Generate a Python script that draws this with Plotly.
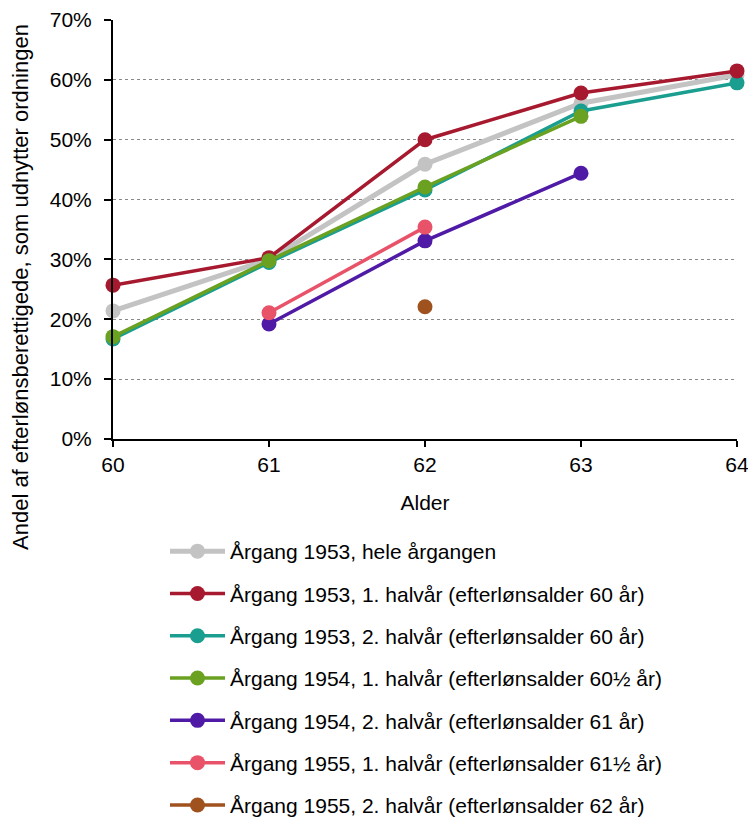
import plotly.graph_objects as go

ages = [60, 61, 62, 63, 64]
names = [
    "Årgang 1953, hele årgangen",
    "Årgang 1953, 1. halvår (efterlønsalder 60 år)",
    "Årgang 1953, 2. halvår (efterlønsalder 60 år)",
    "Årgang 1954, 1. halvår (efterlønsalder 60½ år)",
    "Årgang 1954, 2. halvår (efterlønsalder 61 år)",
    "Årgang 1955, 1. halvår (efterlønsalder 61½ år)",
    "Årgang 1955, 2. halvår (efterlønsalder 62 år)",
]
s1953_all = [21.4, 30.0, 45.9, 56.1, 60.8]
s1953_h1 = [25.7, 30.3, 50.0, 57.8, 61.5]
s1953_h2 = [16.7, 29.5, 41.6, 54.8, 59.5]
s1954_h1 = [17.1, 29.8, 42.1, 53.9, None]
s1954_h2 = [None, 19.2, 33.1, 44.4, None]
s1955_h1 = [None, 21.1, 35.4, None, None]
s1955_h2 = [None, None, 22.1, None, None]
series = [s1953_all, s1953_h1, s1953_h2, s1954_h1, s1954_h2, s1955_h1, s1955_h2]
colors = ["#C3C3C3", "#A6192E", "#1A9E8F", "#6AA121", "#4F1AA6", "#E8536A", "#A0521E"]
widths = [5, 3.5, 3.5, 3.5, 3.5, 3.5, 3.5]
ytitle = "Andel af efterlønsberettigede, som udnytter ordningen"

FONT = "Liberation Sans, Arial, sans-serif"
FS = 21

fig = go.Figure()
order = [0, 2, 1, 3, 4, 5, 6]
for i in order:
    ys = [v / 100 if v is not None else None for v in series[i]]
    fig.add_trace(go.Scatter(
        x=ages, y=ys, name=names[i], mode="lines+markers",
        line=dict(color=colors[i], width=widths[i]),
        marker=dict(color=colors[i], size=15),
        legendgroup=str(i), legendrank=i + 1,
        connectgaps=False, cliponaxis=False,
    ))

fig.add_annotation(
    text=ytitle, textangle=-90, xref="paper", yref="paper",
    x=(20 - 113) / 624, y=(439 - 287) / 419, xanchor="center", yanchor="middle",
    showarrow=False, font=dict(family=FONT, size=22, color="#000"),
)

fig.update_layout(
    width=748, height=817,
    margin=dict(l=113, r=11, t=20, b=378, autoexpand=False),
    paper_bgcolor="white", plot_bgcolor="white",
    font=dict(family=FONT, size=FS, color="#000"),
    showlegend=True,
    legend=dict(
        x=(165 - 113) / 624, y=(439 - 531) / 419, xanchor="left", yanchor="top",
        font=dict(size=FS), tracegroupgap=12, itemwidth=55,
        bgcolor="rgba(0,0,0,0)",
    ),
    xaxis=dict(
        range=[60, 64], tickvals=ages, ticktext=[str(a) for a in ages],
        showgrid=False, showline=True, linecolor="black", linewidth=2,
        ticks="outside", ticklen=6, tickwidth=2, tickcolor="black",
        title=dict(text="Alder", standoff=20, font=dict(family=FONT, size=FS, color="#000")),
        zeroline=False, automargin=False,
        ticklabelstandoff=0, ticklabeloverflow="allow",
    ),
    yaxis=dict(
        range=[0, 0.7], tickvals=[0, 0.1, 0.2, 0.3, 0.4, 0.5, 0.6, 0.7],
        tickformat=".0%",
        showgrid=True, gridcolor="#888", griddash="dot", gridwidth=1,
        showline=True, linecolor="black", linewidth=2,
        ticks="outside", ticklen=7, tickwidth=2, tickcolor="black",
        zeroline=False, automargin=False, ticklabelstandoff=8,
        ticklabeloverflow="allow",
    ),
)
fig.update_xaxes(layer="above traces")
fig.update_yaxes(layer="above traces")

fig.write_html("out.html")
